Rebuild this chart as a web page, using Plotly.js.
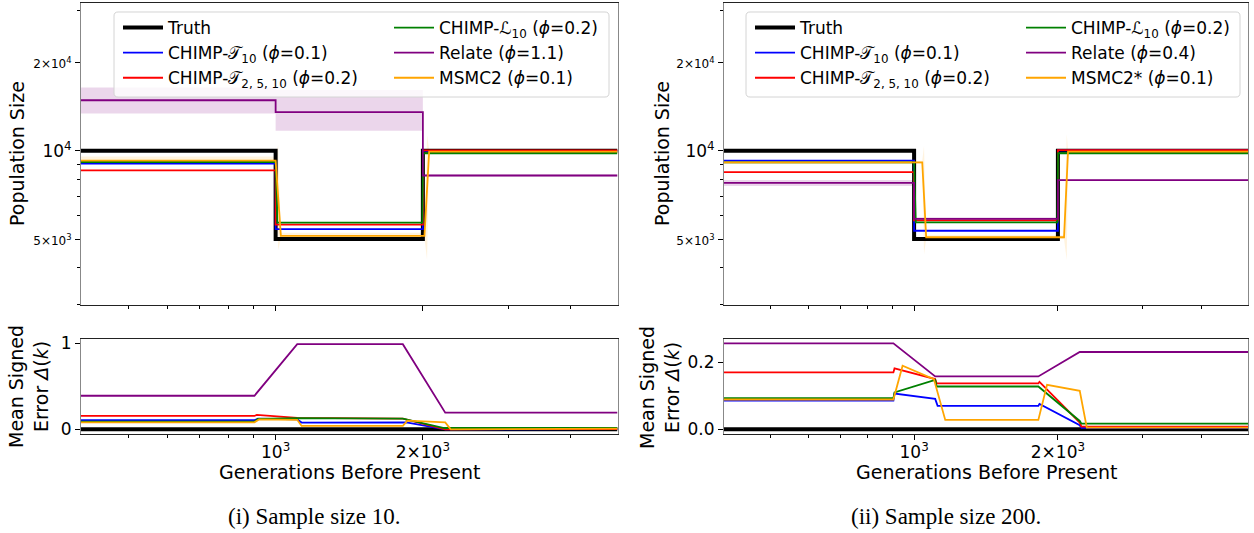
<!DOCTYPE html>
<html><head><meta charset="utf-8">
<script src="https://cdn.plot.ly/plotly-3.0.1.min.js"></script>
<style>html,body{margin:0;padding:0;background:#fff}#chart{width:1254px;height:533px}</style>
</head><body><div id="chart"></div>
<script>
// ---------------- DATA ----------------
// Truth population size history (generations before present)
const truthX = [400, 1000, 1000, 2000, 2000, 5000];
const truthY = [10000, 10000, 5000, 5000, 10000, 10000];
const stepX  = [400, 1000, 1000, 2000, 2000, 5000];
const greenX = [400, 1000, 1008, 1995, 2002, 5000];

// Sample size 10 – population size estimates
const n10_T10   = [9030, 9030, 5400, 5400, 9980, 9980];
const n10_T2510 = [8575, 8575, 5600, 5600, 10030, 10030];
const n10_L10   = [9150, 9150, 5685, 5685, 9800, 9800];
const n10_Rel   = [14860, 14860, 13530, 13530, 8230, 8230];
const n10_RelLo = [13390, 13390, 11700, 11700, 8170, 8170];
const n10_RelHi = [16430, 16430, 16100, 16100, 8290, 8290];
const n10_MsX   = [400, 1000, 1025, 2015, 2060, 5000];
const n10_Ms    = [9245, 9245, 5125, 5125, 9920, 9920];
const n10_MsBX  = [400, 1000, 1012, 1025, 2015, 2040, 2060, 5000];
const n10_MsLo  = [9150, 9150, 4580, 5020, 5020, 4250, 9800, 9800];
const n10_MsHi  = [9550, 9550, 10450, 5250, 5250, 11300, 10100, 10100];

// Sample size 200 – population size estimates
const n200_T10   = [9250, 9250, 5336, 5336, 10020, 10020];
const n200_T2510 = [8450, 8450, 5790, 5790, 10040, 10040];
const n200_L10   = [9125, 9125, 5700, 5700, 9800, 9800];
const n200_Rel   = [7770, 7770, 5860, 5860, 7935, 7935];
const n200_RelLo = [7580, 7580, 5790, 5790, 7880, 7880];
const n200_RelHi = [7950, 7950, 5930, 5930, 7990, 7990];
const n200_MsX   = [400, 1040, 1060, 2060, 2100, 5000];
const n200_Ms    = [9130, 9130, 5070, 5070, 9920, 9920];
const n200_MsBX  = [400, 1040, 1049, 1060, 2060, 2087, 2100, 5000];
const n200_MsLo  = [9000, 9000, 4440, 5000, 5000, 4240, 9800, 9800];
const n200_MsHi  = [9250, 9250, 10380, 5150, 5150, 11400, 10050, 10050];

// Mean signed error, sample size 10
const e10_TruthX = [400, 5000];
const e10_Truth  = [0, 0];
const e10_T10X   = [400, 905, 920, 1107, 1130, 1820, 1850, 2222, 5000];
const e10_T10    = [0.105, 0.105, 0.125, 0.115, 0.078, 0.078, 0.08, 0.0, 0.002];
const e10_T2510X = [400, 905, 915, 1107, 1820, 2222, 5000];
const e10_T2510  = [0.155, 0.155, 0.167, 0.132, 0.124, 0.0, 0.003];
const e10_L10X   = [400, 905, 920, 1107, 1820, 2222, 2250, 5000];
const e10_L10    = [0.089, 0.089, 0.12, 0.13, 0.125, 0.012, 0.015, 0.015];
const e10_RelX   = [400, 905, 1107, 1820, 2222, 5000];
const e10_Rel    = [0.39, 0.39, 0.99, 0.99, 0.194, 0.194];
const e10_MsX    = [400, 905, 925, 1107, 1130, 1820, 1860, 2222, 2280, 5000];
const e10_Ms     = [0.081, 0.081, 0.115, 0.11, 0.039, 0.039, 0.1, 0.08, 0.0, 0.008];

// Mean signed error, sample size 200
const e200_TruthX = [400, 5000];
const e200_Truth  = [0, 0];
const e200_T10X   = [400, 905, 910, 1107, 1120, 1820, 1830, 2222, 2240, 5000];
const e200_T10    = [0.086, 0.086, 0.107, 0.091, 0.07, 0.07, 0.076, 0.012, 0.004, 0.004];
const e200_T2510X = [400, 905, 910, 1107, 1115, 1820, 1830, 2222, 2240, 5000];
const e200_T2510  = [0.17, 0.17, 0.182, 0.15, 0.137, 0.137, 0.142, 0.02, 0.008, 0.008];
const e200_L10X   = [400, 905, 910, 1107, 1115, 1820, 2222, 2240, 5000];
const e200_L10    = [0.093, 0.093, 0.11, 0.148, 0.128, 0.128, 0.025, 0.017, 0.017];
const e200_RelX   = [400, 905, 1107, 1820, 2222, 5000];
const e200_Rel    = [0.257, 0.257, 0.158, 0.158, 0.231, 0.231];
const e200_MsX    = [400, 905, 946, 1100, 1162, 1820, 1898, 2222, 2299, 5000];
const e200_Ms     = [0.089, 0.089, 0.19, 0.15, 0.028, 0.028, 0.133, 0.115, 0.005, 0.005];

// Labels
const methodNames10 = [
  'Truth',
  'CHIMP-𝒯<sub>10</sub> (<i>ϕ</i>=0.1)',
  'CHIMP-𝒯<sub>2, 5, 10</sub> (<i>ϕ</i>=0.2)',
  'CHIMP-ℒ<sub>10</sub> (<i>ϕ</i>=0.2)',
  'Relate (<i>ϕ</i>=1.1)',
  'MSMC2 (<i>ϕ</i>=0.1)'
];
const methodNames200 = [
  'Truth',
  'CHIMP-𝒯<sub>10</sub> (<i>ϕ</i>=0.1)',
  'CHIMP-𝒯<sub>2, 5, 10</sub> (<i>ϕ</i>=0.2)',
  'CHIMP-ℒ<sub>10</sub> (<i>ϕ</i>=0.2)',
  'Relate (<i>ϕ</i>=0.4)',
  'MSMC2* (<i>ϕ</i>=0.1)'
];
const colors = ['#000000', '#0000ff', '#ff0000', '#008000', '#800080', '#ffa500'];
const popTickVals = [5000, 10000, 20000];
const popTickText = ['<span style="font-size:12px">5×10<sup>3</sup></span>', '10<sup>4</sup>', '<span style="font-size:12px">2×10<sup>4</sup></span>'];
const popMinor = [3000, 4000, 6000, 7000, 8000, 9000, 30000];
const genTickVals = [1000, 2000];
const genTickText = ['10<sup>3</sup>', '2×10<sup>3</sup>'];
const genMinor = [500, 600, 700, 800, 900, 3000, 4000];
const err10Ticks = [0, 1], err10Text = ['0', '1'];
const err200Ticks = [0, 0.2], err200Text = ['0.0', '0.2'];

// ---------------- TRACES ----------------
const traces = [];
function band(x, lo, hi, xa, ya, color, leg) {
  traces.push({x: x, y: lo, xaxis: xa, yaxis: ya, mode: 'lines', line: {width: 0, color: color}, showlegend: false, legend: leg, hoverinfo: 'skip'});
  traces.push({x: x, y: hi, xaxis: xa, yaxis: ya, mode: 'lines', line: {width: 0, color: color}, fill: 'tonexty', fillcolor: color, showlegend: false, legend: leg, hoverinfo: 'skip'});
}
function line(x, y, xa, ya, i, name, leg, show) {
  traces.push({x: x, y: y, xaxis: xa, yaxis: ya, mode: 'lines', name: name,
    line: {color: colors[i], width: i === 0 ? 4 : 1.8}, legend: leg, showlegend: show});
}
// Sample size 10 top
band(stepX, n10_RelLo, n10_RelHi, 'x', 'y', 'rgba(128,0,128,0.16)', 'legend2');
band(n10_MsBX, n10_MsLo, n10_MsHi, 'x', 'y', 'rgba(255,165,0,0.13)', 'legend2');
line(truthX, truthY, 'x', 'y', 0, methodNames10[0], 'legend', true);
line(stepX, n10_T10, 'x', 'y', 1, methodNames10[1], 'legend', true);
line(stepX, n10_T2510, 'x', 'y', 2, methodNames10[2], 'legend', true);
line(greenX, n10_L10, 'x', 'y', 3, methodNames10[3], 'legend2', true);
line(stepX, n10_Rel, 'x', 'y', 4, methodNames10[4], 'legend2', true);
line(n10_MsX, n10_Ms, 'x', 'y', 5, methodNames10[5], 'legend2', true);
// Sample size 10 error
line(e10_TruthX, e10_Truth, 'x2', 'y2', 0, '', 'legend', false);
line(e10_T10X, e10_T10, 'x2', 'y2', 1, '', 'legend', false);
line(e10_T2510X, e10_T2510, 'x2', 'y2', 2, '', 'legend', false);
line(e10_L10X, e10_L10, 'x2', 'y2', 3, '', 'legend', false);
line(e10_RelX, e10_Rel, 'x2', 'y2', 4, '', 'legend', false);
line(e10_MsX, e10_Ms, 'x2', 'y2', 5, '', 'legend', false);
// Sample size 200 top
band(stepX, n200_RelLo, n200_RelHi, 'x3', 'y3', 'rgba(128,0,128,0.16)', 'legend4');
band(n200_MsBX, n200_MsLo, n200_MsHi, 'x3', 'y3', 'rgba(255,165,0,0.13)', 'legend4');
line(truthX, truthY, 'x3', 'y3', 0, methodNames200[0], 'legend3', true);
line(stepX, n200_T10, 'x3', 'y3', 1, methodNames200[1], 'legend3', true);
line(stepX, n200_T2510, 'x3', 'y3', 2, methodNames200[2], 'legend3', true);
line(greenX, n200_L10, 'x3', 'y3', 3, methodNames200[3], 'legend4', true);
line(stepX, n200_Rel, 'x3', 'y3', 4, methodNames200[4], 'legend4', true);
line(n200_MsX, n200_Ms, 'x3', 'y3', 5, methodNames200[5], 'legend4', true);
// Sample size 200 error
line(e200_TruthX, e200_Truth, 'x4', 'y4', 0, '', 'legend3', false);
line(e200_T10X, e200_T10, 'x4', 'y4', 1, '', 'legend3', false);
line(e200_T2510X, e200_T2510, 'x4', 'y4', 2, '', 'legend3', false);
line(e200_L10X, e200_L10, 'x4', 'y4', 3, '', 'legend3', false);
line(e200_RelX, e200_Rel, 'x4', 'y4', 4, '', 'legend3', false);
line(e200_MsX, e200_Ms, 'x4', 'y4', 5, '', 'legend3', false);

// ---------------- LAYOUT ----------------
const W = 1254, H = 533;
const px = v => v / W, py = v => 1 - v / H;
const leftDom = [px(81), px(617.5)], rightDom = [px(724), px(1248)];
const topDom = [py(305), py(3)], botDom = [py(433.6), py(339)];
const font = 'DejaVu Sans, sans-serif';

function xAxis(dom, anchor, labels) {
  return {domain: dom, anchor: anchor, type: 'log', range: [Math.log10(400), Math.log10(5000)],
    tickmode: 'array', tickvals: genTickVals, ticktext: genTickText, showticklabels: labels,
    ticks: 'outside', ticklen: 5, tickwidth: 1, tickcolor: '#000', ticklabelstandoff: -2,
    minor: {tickmode: 'array', tickvals: genMinor, ticks: 'outside', ticklen: 3, tickwidth: 1, tickcolor: '#000', showgrid: false},
    tickfont: {family: font, size: 17, color: '#000'},
    showgrid: false, zeroline: false, showline: true, linecolor: '#222', linewidth: 1, mirror: true};
}
function yPop(dom, anchor) {
  return {domain: dom, anchor: anchor, type: 'log', range: [3.4741, 4.5034],
    tickmode: 'array', tickvals: popTickVals, ticktext: popTickText,
    ticks: 'outside', ticklen: 5, tickwidth: 1, tickcolor: '#000',
    minor: {tickmode: 'array', tickvals: popMinor, ticks: 'outside', ticklen: 3, tickwidth: 1, tickcolor: '#000', showgrid: false},
    tickfont: {family: font, size: 17, color: '#000'},
    showgrid: false, zeroline: false, showline: true, linecolor: '#888', linewidth: 1, mirror: true};
}
function yErr(dom, anchor, range, tv, tt) {
  return {domain: dom, anchor: anchor, range: range, tickmode: 'array', tickvals: tv, ticktext: tt,
    ticks: 'outside', ticklen: 5, tickwidth: 1, tickcolor: '#000',
    tickfont: {family: font, size: 17, color: '#000'},
    showgrid: false, zeroline: false, showline: true, linecolor: '#888', linewidth: 1, mirror: true};
}
function legendAt(xPix) {
  return {x: px(xPix), y: py(10), xanchor: 'left', yanchor: 'top', orientation: 'v', traceorder: 'normal',
    bgcolor: 'rgba(0,0,0,0)', borderwidth: 0, tracegroupgap: 0, itemwidth: 40,
    font: {family: font, size: 17, color: '#000'}};
}
function roundedBox(x0, y0, x1, y1, r) {
  const X = v => px(v).toFixed(5), Y = v => py(v).toFixed(5);
  return {type: 'path', xref: 'paper', yref: 'paper', layer: 'above',
    path: `M${X(x0 + r)},${Y(y0)} L${X(x1 - r)},${Y(y0)} Q${X(x1)},${Y(y0)} ${X(x1)},${Y(y0 + r)} L${X(x1)},${Y(y1 - r)} Q${X(x1)},${Y(y1)} ${X(x1 - r)},${Y(y1)} L${X(x0 + r)},${Y(y1)} Q${X(x0)},${Y(y1)} ${X(x0)},${Y(y1 - r)} L${X(x0)},${Y(y0 + r)} Q${X(x0)},${Y(y0)} ${X(x0 + r)},${Y(y0)} Z`,
    fillcolor: 'rgba(255,255,255,0.8)', line: {color: '#d4d4d4', width: 1}};
}
function ann(text, x, y, size, opts) {
  return Object.assign({text: text, x: px(x), y: py(y), xref: 'paper', yref: 'paper', showarrow: false,
    xanchor: 'center', yanchor: 'middle', font: {family: font, size: size, color: '#000'}}, opts || {});
}
const capFont = {family: 'Liberation Serif, serif', size: 23, color: '#000'};

const layout = {
  width: W, height: H, margin: {l: 0, r: 0, t: 0, b: 0},
  paper_bgcolor: '#fff', plot_bgcolor: '#fff', showlegend: true,
  font: {family: font, color: '#000'},
  xaxis: xAxis(leftDom, 'y', false), yaxis: yPop(topDom, 'x'),
  xaxis2: xAxis(leftDom, 'y2', true), yaxis2: yErr(botDom, 'x2', [-0.05, 1.05], err10Ticks, err10Text),
  xaxis3: xAxis(rightDom, 'y3', false), yaxis3: yPop(topDom, 'x3'),
  xaxis4: xAxis(rightDom, 'y4', true), yaxis4: yErr(botDom, 'x4', [-0.01285, 0.2699], err200Ticks, err200Text),
  legend: legendAt(118), legend2: legendAt(389), legend3: legendAt(750), legend4: legendAt(1021),
  shapes: [roundedBox(114, 12, 609, 97, 4), roundedBox(746, 12, 1240, 97, 4)],
  annotations: [
    ann('Population Size', 17, 154, 19, {textangle: -90}),
    ann('Population Size', 662, 154, 19, {textangle: -90}),
    ann('Mean Signed<br>Error <i>Δ</i>(<i>k</i>)', 28, 387, 19, {textangle: -90}),
    ann('Mean Signed<br>Error <i>Δ</i>(<i>k</i>)', 659, 387, 19, {textangle: -90}),
    ann('Generations Before Present', 349, 472, 19),
    ann('Generations Before Present', 986, 472, 19),
    ann('(i) Sample size 10.', 314, 516, 23, {font: capFont}),
    ann('(ii) Sample size 200.', 946, 516, 23, {font: capFont})
  ]
};

Plotly.newPlot('chart', traces, layout, {staticPlot: true});
</script>
</body></html>
